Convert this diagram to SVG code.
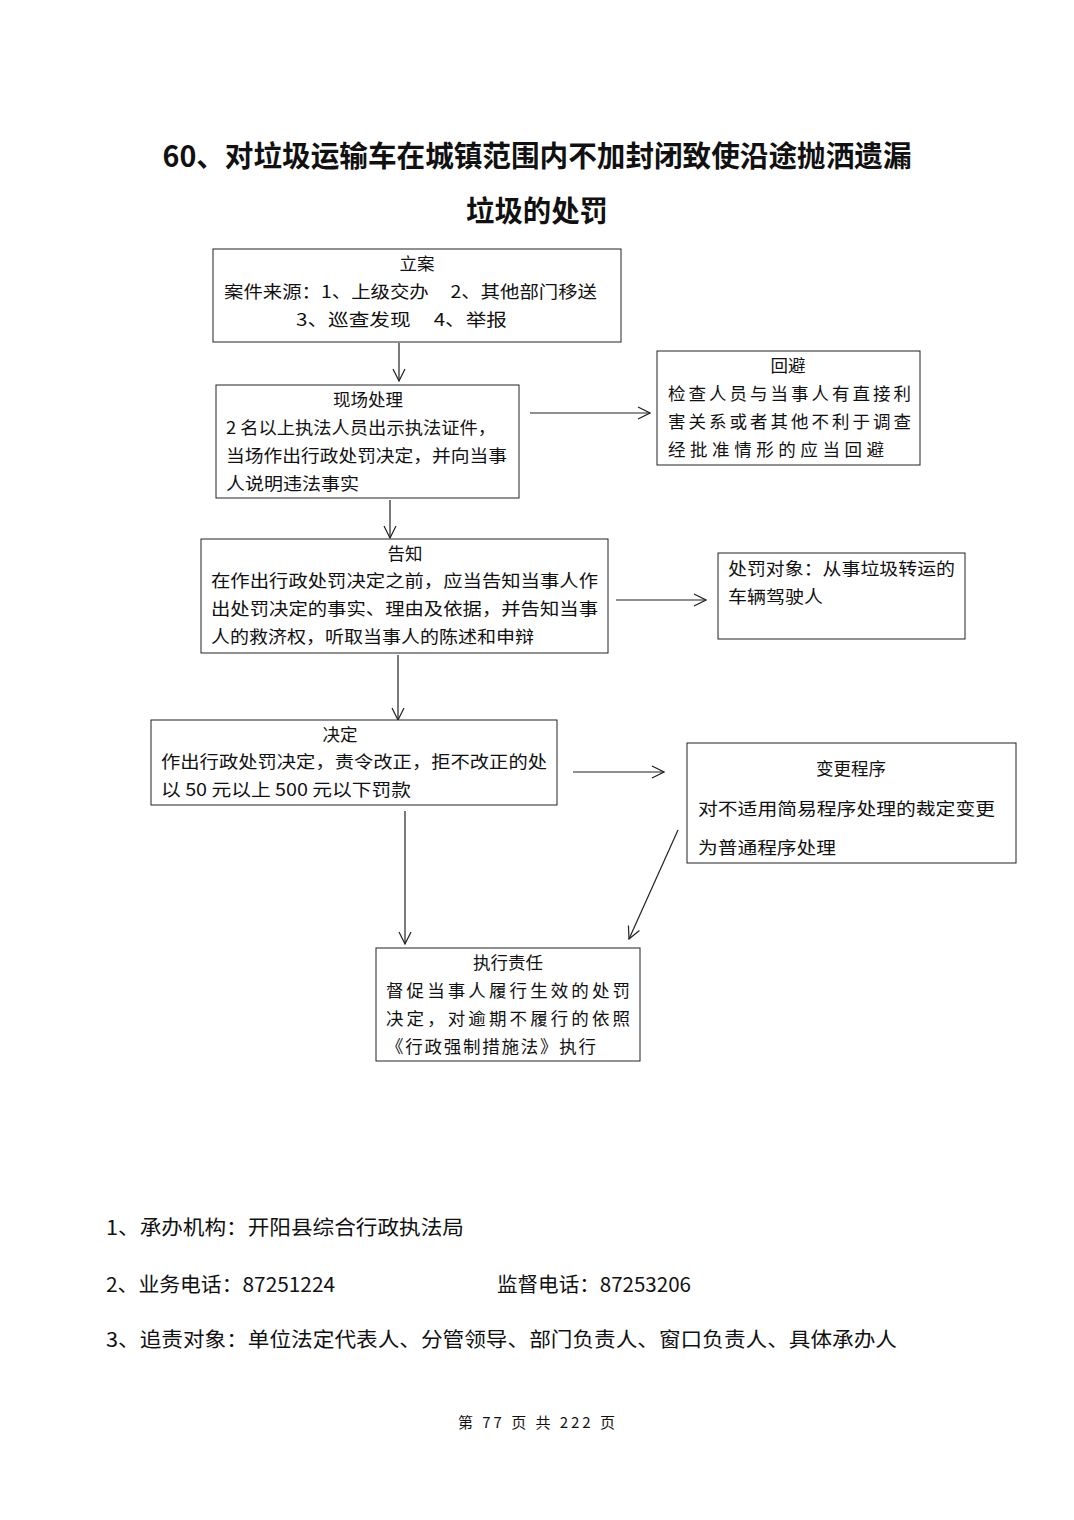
<svg xmlns="http://www.w3.org/2000/svg" width="1074" height="1520" viewBox="0 0 1074 1520">
<style>
text{font-family:"Noto Sans CJK SC","Liberation Serif",sans-serif;fill:#111;}
.t{font-size:29px;font-weight:bold;}
.n{font-size:17.5px;}
.c{text-anchor:middle;}
.f{font-size:20px;}
.p{font-size:15px;}
rect{fill:#fff;stroke:#222;stroke-width:1;}
.e{stroke:#222;stroke-width:1.2;fill:none;}
</style>
<defs>
<marker id="ah" viewBox="0 0 14 14" refX="13" refY="7" markerWidth="14" markerHeight="14" markerUnits="userSpaceOnUse" orient="auto">
<path d="M1,1 L13,7 L1,13" fill="none" stroke="#222" stroke-width="1.2"/>
</marker>
</defs>
<rect x="0" y="0" width="1074" height="1520" style="fill:#fff;stroke:none"/>
<g id="title">
<text class="t c" x="537" y="167" textLength="749" lengthAdjust="spacingAndGlyphs">60、对垃圾运输车在城镇范围内不加封闭致使沿途抛洒遗漏</text>
<text class="t c" x="537" y="222" textLength="142" lengthAdjust="spacingAndGlyphs">垃圾的处罚</text>
</g>
<g id="connectors">
<line class="e" x1="399" y1="343" x2="399" y2="381" marker-end="url(#ah)"/>
<line class="e" x1="530" y1="413" x2="650" y2="413" marker-end="url(#ah)"/>
<line class="e" x1="390" y1="500" x2="390" y2="538" marker-end="url(#ah)"/>
<line class="e" x1="616" y1="600" x2="706" y2="600" marker-end="url(#ah)"/>
<line class="e" x1="398" y1="655" x2="398" y2="720" marker-end="url(#ah)"/>
<line class="e" x1="573" y1="772" x2="664" y2="772" marker-end="url(#ah)"/>
<line class="e" x1="405" y1="811" x2="405" y2="944" marker-end="url(#ah)"/>
<line class="e" x1="678" y1="830" x2="629" y2="939" marker-end="url(#ah)"/>
</g>
<g id="node-lian">
<rect x="213" y="249" width="408" height="93"/>
<text class="n c" x="417" y="270">立案</text>
<text class="n" x="224" y="298" xml:space="preserve" textLength="373" lengthAdjust="spacingAndGlyphs">案件来源：1、上级交办     2、其他部门移送</text>
<text class="n" x="296" y="326" xml:space="preserve" textLength="211" lengthAdjust="spacingAndGlyphs">3、巡查发现     4、举报</text>
</g>
<g id="node-xianchang">
<rect x="216" y="385" width="303" height="113"/>
<text class="n c" x="368" y="406">现场处理</text>
<text class="n" x="226" y="434" textLength="270" lengthAdjust="spacingAndGlyphs">2 名以上执法人员出示执法证件，</text>
<text class="n" x="226" y="462" textLength="281" lengthAdjust="spacingAndGlyphs">当场作出行政处罚决定，并向当事</text>
<text class="n" x="226" y="490" textLength="133" lengthAdjust="spacingAndGlyphs">人说明违法事实</text>
</g>
<g id="node-huibi">
<rect x="657" y="351" width="263" height="114"/>
<text class="n c" x="788" y="372">回避</text>
<text class="n" x="668" y="400" textLength="243" lengthAdjust="spacing">检查人员与当事人有直接利</text>
<text class="n" x="668" y="428" textLength="243" lengthAdjust="spacing">害关系或者其他不利于调查</text>
<text class="n" x="668" y="456" textLength="216" lengthAdjust="spacing">经批准情形的应当回避</text>
</g>
<g id="node-gaozhi">
<rect x="201" y="539" width="407" height="114"/>
<text class="n c" x="405" y="560">告知</text>
<text class="n" x="211" y="587" textLength="387" lengthAdjust="spacingAndGlyphs">在作出行政处罚决定之前，应当告知当事人作</text>
<text class="n" x="211" y="615" textLength="387" lengthAdjust="spacingAndGlyphs">出处罚决定的事实、理由及依据，并告知当事</text>
<text class="n" x="211" y="643" textLength="323" lengthAdjust="spacingAndGlyphs">人的救济权，听取当事人的陈述和申辩</text>
</g>
<g id="node-duixiang">
<rect x="718" y="553" width="247" height="86"/>
<text class="n" x="728" y="575" textLength="227" lengthAdjust="spacingAndGlyphs">处罚对象：从事垃圾转运的</text>
<text class="n" x="728" y="603" textLength="95" lengthAdjust="spacingAndGlyphs">车辆驾驶人</text>
</g>
<g id="node-jueding">
<rect x="151" y="720" width="406" height="85"/>
<text class="n c" x="340" y="741">决定</text>
<text class="n" x="161" y="768" textLength="386" lengthAdjust="spacingAndGlyphs">作出行政处罚决定，责令改正，拒不改正的处</text>
<text class="n" x="161" y="796" textLength="250" lengthAdjust="spacingAndGlyphs">以 50 元以上 500 元以下罚款</text>
</g>
<g id="node-biangeng">
<rect x="687" y="743" width="329" height="120"/>
<text class="n c" x="851" y="775">变更程序</text>
<text class="n" x="698" y="815" textLength="297" lengthAdjust="spacingAndGlyphs">对不适用简易程序处理的裁定变更</text>
<text class="n" x="698" y="854" textLength="138" lengthAdjust="spacingAndGlyphs">为普通程序处理</text>
</g>
<g id="node-zhixing">
<rect x="376" y="948" width="264" height="113"/>
<text class="n c" x="508" y="969">执行责任</text>
<text class="n" x="386" y="997" textLength="244" lengthAdjust="spacing">督促当事人履行生效的处罚</text>
<text class="n" x="386" y="1025" textLength="244" lengthAdjust="spacing">决定，对逾期不履行的依照</text>
<text class="n" x="386" y="1053" textLength="210" lengthAdjust="spacing">《行政强制措施法》执行</text>
</g>
<g id="footer">
<text class="f" x="106" y="1235" textLength="358" lengthAdjust="spacingAndGlyphs">1、承办机构：开阳县综合行政执法局</text>
<text class="f" x="106" y="1292" textLength="229" lengthAdjust="spacingAndGlyphs">2、业务电话：87251224</text>
<text class="f" x="497" y="1292" textLength="194" lengthAdjust="spacingAndGlyphs">监督电话：87253206</text>
<text class="f" x="106" y="1347" textLength="791" lengthAdjust="spacingAndGlyphs">3、追责对象：单位法定代表人、分管领导、部门负责人、窗口负责人、具体承办人</text>
<text class="p" x="458" y="1428" xml:space="preserve" textLength="157" lengthAdjust="spacing">第 77 页 共 222 页</text>
</g>
</svg>
